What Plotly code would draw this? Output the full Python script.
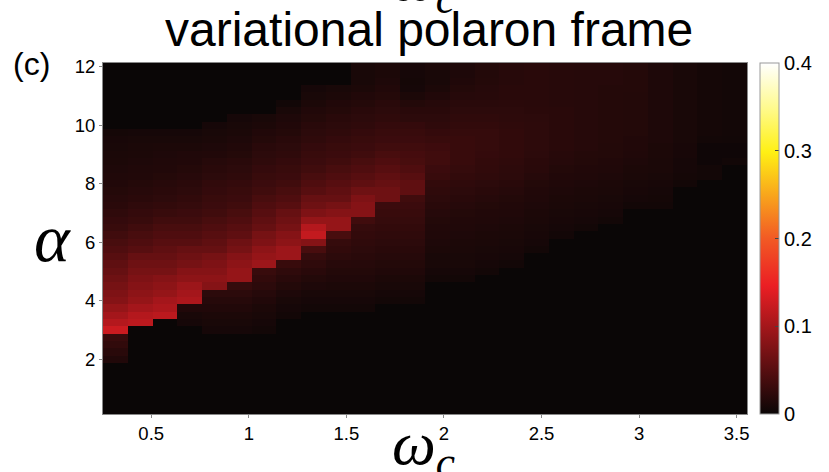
import numpy as np
import plotly.graph_objects as go

# grid of cell centres (omega_c along x, alpha along y)
x_centers = [round(0.3165 + 0.1269 * i, 4) for i in range(26)]
y_centers = [0.25 * (j + 1) for j in range(48)]

x_ticks = [0.5, 1, 1.5, 2, 2.5, 3, 3.5]
x_ticktext = ["0.5", "1", "1.5", "2", "2.5", "3", "3.5"]
y_ticks = [2, 4, 6, 8, 10, 12]
y_ticktext = ["2", "4", "6", "8", "10", "12"]
cb_ticks = [0, 0.1, 0.2, 0.3, 0.4]
cb_ticktext = ["0", "0.1", "0.2", "0.3", "0.4"]

# values in units of 0.01, one column per omega_c, listed from alpha=0.25 up to alpha=12
col_00 = "0 0 0 0 0 0 0 1.5  2 2.5 3 12.5 11 10 9 8  7.5 7 6.5 6 5.5 5 4.5 4  3.5 3 2.7 2.4 2.1 1.9 1.7 1.5  1.4 1.3 1.2 1.1 1 0.9 0.7 0  0 0 0 0 0 0 0 0"
col_01 = "0 0 0 0 0 0 0 0  0 0 0 0 11.5 11 10 9  8.5 8 7.5 7 6.5 6 5 4.5  4 3.5 3 2.7 2.4 2.1 1.9 1.7  1.5 1.4 1.3 1.2 1.1 1 0.8 0  0 0 0 0 0 0 0 0"
col_02 = "0 0 0 0 0 0 0 0  0 0 0 0 0 11.5 10.5 10  9 8.5 8 7 6.5 6 5.5 5  4.5 4 3.5 3 2.6 2.3 2.1 1.9  1.7 1.5 1.4 1.3 1.2 1 0.8 0  0 0 0 0 0 0 0 0"
col_03 = "0 0 0 0 0 0 0 0  0 0 0 0 0.8 1 1.5 10.5  10 9.5 8.5 8 7 6.5 6 5  4.5 4 3.5 3.2 2.8 2.5 2.3 2.1  1.9 1.7 1.5 1.4 1.2 1 0.8 0  0 0 0 0 0 0 0 0"
col_04 = "0 0 0 0 0 0 0 0  0 0 0 0.8 1 1.2 1.5 1.8  2.2 8 8.5 8 7.5 7 6 5.5  5 4.5 4 3.5 3.2 3 2.7 2.5  2.2 2 1.8 1.5 1.3 1.1 1 0.8  0 0 0 0 0 0 0 0"
col_05 = "0 0 0 0 0 0 0 0  0 0 0 0.8 1 1.2 1.5 1.8  2.2 2.8 9 9 8.5 8 7 6.5  5.5 5 4.5 4 3.5 3.2 3 2.7  2.4 2.2 2 1.7 1.5 1.3 1.1 1  0.8 0 0 0 0 0 0 0"
col_06 = "0 0 0 0 0 0 0 0  0 0 0 0.6 0.8 1 1.2 1.5  1.8 2.2 2.6 3 9.5 9 8.5 7.5  7 6 5.5 5 4.5 4 3.5 3.2  3 2.7 2.4 2.2 2 1.7 1.5 1.2  1 0 0 0 0 0 0 0"
col_07 = "0 0 0 0 0 0 0 0  0 0 0 0 0 0.6 0.8 1  1.3 1.6 2 2.4 3 9.5 9.5 8.5  8 7 6.5 6 5 4.5 4 3.5  3.2 3 2.7 2.4 2.2 2 1.7 1.5  1.3 1 0.5 0 0 0 0 0"
col_08 = "0 0 0 0 0 0 0 0  0 0 0 0 0 0 0.6 0.8  1 1.3 1.6 2 2.4 2.8 4 8  12 11 9 7.5 6.5 6 5 4.5  4 3.5 3.2 3 2.7 2.4 2.2 2  1.7 1.5 1.2 1 0.8 0 0 0"
col_09 = "0 0 0 0 0 0 0 0  0 0 0 0 0 0 0.6 0.8  1 1.2 1.4 1.6 1.9 2.2 2.5 2.8  4 9 9 8 7 6 5.5 5  4.5 4 3.5 3.2 3 2.7 2.4 2.2  2 1.7 1.5 1.2 1 0 0 0"
col_10 = "0 0 0 0 0 0 0 0  0 0 0 0 0 0 0.6 0.8  1 1.2 1.4 1.6 1.8 2 2.2 2.4  2.6 2.8 3.5 8 8 7.5 6.5 5.5  5 4.5 4 3.5 3.2 3 2.7 2.4  2.2 2 1.7 1.5 1.2 1 1 1"
col_11 = "0 0 0 0 0 0 0 0  0 0 0 0 0 0 0 0.6  0.8 1 1.2 1.4 1.6 1.8 2 2.2  2.4 2.6 2.8 3 3.2 6.5 6.5 6  5.5 5 4.5 4 3.5 3.2 3 2.7  2.4 2.2 2 1.7 1.5 1.3 1.2 1.2"
col_12 = "0 0 0 0 0 0 0 0  0 0 0 0 0 0 0 0.6  0.8 1 1.2 1.4 1.6 1.8 2 2.2  2.4 2.6 2.8 3 3.2 3.5 5.5 5.5  5 4.5 4 3.8 3.5 3.2 3 2.7  2.2 2 1.6 1.2 0.8 0.7 0.8 0.9"
col_13 = "0 0 0 0 0 0 0 0  0 0 0 0 0 0 0 0  0 0 0.6 0.8 1 1 1.2 1.3  1.4 1.5 1.6 1.8 2 2.2 2.4 2.6  3 3.2 3.5 3.5 3.3 3 2.7 2.4  2.2 2 1.8 1.5 1.2 1 1 1.2"
col_14 = "0 0 0 0 0 0 0 0  0 0 0 0 0 0 0 0  0 0 0.6 0.8 1 1 1.1 1.2  1.3 1.4 1.5 1.6 1.8 2 2.2 2.4  2.6 2.8 3 3 3 3 2.8 2.6  2.4 2.2 2 1.8 1.6 1.4 1.3 1.3"
col_15 = "0 0 0 0 0 0 0 0  0 0 0 0 0 0 0 0  0 0 0 0.6 0.8 0.9 1 1.1  1.2 1.3 1.4 1.5 1.6 1.8 2 2.2  2.4 2.5 2.6 2.7 2.8 2.8 2.8 2.6  2.4 2.2 2 1.9 1.8 1.7 1.6 1.6"
col_16 = "0 0 0 0 0 0 0 0  0 0 0 0 0 0 0 0  0 0 0 0 0.6 0.8 0.9 1  1.1 1.2 1.3 1.4 1.5 1.6 1.8 2  2.2 2.3 2.4 2.5 2.5 2.5 2.5 2.4  2.3 2.2 2.1 2 2 1.9 1.9 1.9"
col_17 = "0 0 0 0 0 0 0 0  0 0 0 0 0 0 0 0  0 0 0 0 0 0 0.6 0.8  0.9 1 1.1 1.2 1.3 1.4 1.5 1.6  1.8 2 2.1 2.2 2.3 2.3 2.3 2.3  2.2 2.1 2 2 2 2 2 2"
col_18 = "0 0 0 0 0 0 0 0  0 0 0 0 0 0 0 0  0 0 0 0 0 0 0 0  0.6 0.8 0.9 1 1.1 1.2 1.3 1.4  1.5 1.6 1.8 1.9 2 2 2 2  2 2 1.9 1.9 1.9 1.9 1.9 1.9"
col_19 = "0 0 0 0 0 0 0 0  0 0 0 0 0 0 0 0  0 0 0 0 0 0 0 0  0 0.6 0.8 0.9 1 1.1 1.2 1.3  1.4 1.5 1.6 1.7 1.8 1.8 1.8 1.8  1.8 1.8 1.8 1.8 1.8 1.8 1.8 1.8"
col_20 = "0 0 0 0 0 0 0 0  0 0 0 0 0 0 0 0  0 0 0 0 0 0 0 0  0 0 0.6 0.8 0.9 1 1.1 1.2  1.3 1.4 1.5 1.6 1.6 1.7 1.7 1.7  1.7 1.7 1.7 1.7 1.7 1.8 1.8 1.8"
col_21 = "0 0 0 0 0 0 0 0  0 0 0 0 0 0 0 0  0 0 0 0 0 0 0 0  0 0 0 0 0.6 0.8 0.9 1  1.1 1.2 1.3 1.4 1.5 1.5 1.6 1.6  1.6 1.6 1.6 1.6 1.7 1.7 1.7 1.7"
col_22 = "0 0 0 0 0 0 0 0  0 0 0 0 0 0 0 0  0 0 0 0 0 0 0 0  0 0 0 0 0.6 0.7 0.8 0.9  1 1.1 1.1 1.2 1.2 1.3 1.3 1.3  1.3 1.3 1.3 1.3 1.3 1.3 1.3 1.3"
col_23 = "0 0 0 0 0 0 0 0  0 0 0 0 0 0 0 0  0 0 0 0 0 0 0 0  0 0 0 0 0 0 0 0.6  0.7 0.8 0.8 0.9 0.9 1 1 1  1 1 1 1 1 1 1 1"
col_24 = "0 0 0 0 0 0 0 0  0 0 0 0 0 0 0 0  0 0 0 0 0 0 0 0  0 0 0 0 0 0 0 0  0.6 0.6 0.3 0.3 0.3 0.6 0.7 0.7  0.7 0.7 0.7 0.7 0.7 0.7 0.7 0.7"
col_25 = "0 0 0 0 0 0 0 0  0 0 0 0 0 0 0 0  0 0 0 0 0 0 0 0  0 0 0 0 0 0 0 0  0 0 0.5 0.3 0.3 0.5 0.6 0.6  0.6 0.6 0.6 0.6 0.6 0.6 0.6 0.6"

columns = [col_00, col_01, col_02, col_03, col_04, col_05, col_06, col_07, col_08,
           col_09, col_10, col_11, col_12, col_13, col_14, col_15, col_16, col_17,
           col_18, col_19, col_20, col_21, col_22, col_23, col_24, col_25]
z = np.array([[float(v) / 100.0 for v in c.split()] for c in columns]).T

hot = [
    [0.0, "rgb(10,6,6)"],
    [0.365, "rgb(235,30,36)"],
    [0.5, "rgb(242,90,36)"],
    [0.746, "rgb(255,240,20)"],
    [0.87, "rgb(255,250,140)"],
    [1.0, "rgb(255,255,255)"],
]

W, H = 829, 472
ml, mr, mt, mb = 103, 77, 63, 58
pw, ph = W - ml - mr, H - mt - mb

def px(xp):
    return (xp - ml) / pw

def py(yp):
    return 1 - (yp - mt) / ph

sans = "Liberation Sans, Arial, sans-serif"
serif = "Liberation Serif, Times New Roman, serif"

fig = go.Figure(go.Heatmap(
    x=x_centers, y=y_centers, z=z, zmin=0, zmax=0.4, colorscale=hot,
    colorbar=dict(
        x=px(765), xanchor="left", xpad=0, y=0.5, yanchor="middle", ypad=0,
        len=1, lenmode="fraction", thickness=19, thicknessmode="pixels",
        outlinewidth=1, outlinecolor="#999999",
        tickvals=cb_ticks, ticktext=cb_ticktext, ticks="inside", ticklen=4,
        tickcolor="#444444", tickfont=dict(family=sans, size=20, color="black"),
    ),
))

fig.update_layout(
    width=W, height=H, margin=dict(l=ml, r=mr, t=mt, b=mb),
    paper_bgcolor="white", plot_bgcolor="white",
    xaxis=dict(range=[0.253, 3.553], tickvals=x_ticks, ticktext=x_ticktext,
               showline=True, mirror=True, linecolor="#888888", linewidth=1,
               ticks="outside", ticklen=3, tickcolor="#888888",
               showgrid=False, zeroline=False,
               tickfont=dict(family=sans, size=18.5, color="black")),
    yaxis=dict(range=[0.125, 12.125], tickvals=y_ticks, ticktext=y_ticktext,
               showline=True, mirror=True, linecolor="#888888", linewidth=1,
               ticks="outside", ticklen=3, tickcolor="#888888",
               showgrid=False, zeroline=False,
               tickfont=dict(family=sans, size=18.5, color="black")),
    annotations=[
        dict(text="variational polaron frame", x=px(432), y=py(30), xref="paper", yref="paper",
             xanchor="center", yanchor="middle", showarrow=False,
             font=dict(family=sans, size=48, color="black")),
        dict(text="(c)", x=px(31), y=py(64), xref="paper", yref="paper",
             xanchor="center", yanchor="middle", showarrow=False,
             font=dict(family=sans, size=32, color="black")),
        dict(text="<i>α</i>", x=px(52), y=py(238), xref="paper", yref="paper",
             xanchor="center", yanchor="middle", showarrow=False,
             font=dict(family=serif, size=68, color="black")),
        dict(text="<i>ω<sub>c</sub></i>", x=px(426), y=py(447), xref="paper", yref="paper",
             xanchor="center", yanchor="middle", showarrow=False,
             font=dict(family=serif, size=62, color="black")),
        dict(text="<i>ω<sub>c</sub></i>", x=px(426), y=py(-17), xref="paper", yref="paper",
             xanchor="center", yanchor="middle", showarrow=False,
             font=dict(family=serif, size=62, color="black")),
    ],
)

fig.write_html("out.html")
